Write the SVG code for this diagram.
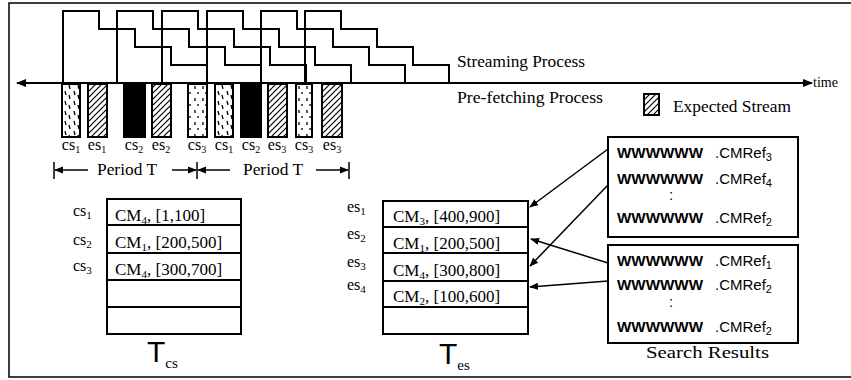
<svg xmlns="http://www.w3.org/2000/svg" width="851" height="380" viewBox="0 0 851 380">
<style>
.ln{fill:none;stroke:#000;stroke-width:2}
.thin{fill:none;stroke:#000;stroke-width:1.5}
.bar{stroke:#000;stroke-width:2}
.ser{font-family:"Liberation Serif","Times New Roman",serif;fill:#000}
.san{font-family:"Liberation Sans",Arial,sans-serif;fill:#000}
.lbl{font-family:"Liberation Serif","Times New Roman",serif;font-size:16px;fill:#000;text-anchor:middle}
.row{font-family:"Liberation Serif","Times New Roman",serif;font-size:17px;fill:#000}
.sr{font-family:"Liberation Sans",Arial,sans-serif;font-size:15px;fill:#000}
.ww{font-family:"Liberation Sans",Arial,sans-serif;font-size:14px;font-weight:bold;fill:#000}
</style>
<defs>
<pattern id="hatch" width="6" height="6" patternUnits="userSpaceOnUse">
<rect width="6" height="6" fill="#fff"/>
<path d="M-1,7 L7,-1 M-4,4 L4,-4 M2,10 L10,2" stroke="#000" stroke-width="1.2"/>
</pattern>
<pattern id="dash" width="9" height="10" patternUnits="userSpaceOnUse">
<rect width="9" height="10" fill="#fff"/>
<path d="M2,1 L3,5 M6,5 L7,9" stroke="#000" stroke-width="1.3"/>
</pattern>
<pattern id="dot" width="8" height="12" patternUnits="userSpaceOnUse">
<rect width="8" height="12" fill="#fff"/>
<path d="M3,2 L3,5 M6,8 L6,10" stroke="#000" stroke-width="1.3"/>
</pattern>
<marker id="ah" viewBox="0 0 10 10" refX="9" refY="5" markerWidth="9" markerHeight="9" markerUnits="userSpaceOnUse" orient="auto">
<path d="M0,1 L10,5 L0,9 Z" fill="#000"/>
</marker>
<marker id="ahb" viewBox="0 0 10 10" refX="9" refY="5" markerWidth="12" markerHeight="10" markerUnits="userSpaceOnUse" orient="auto">
<path d="M0,1 L10,5 L0,9 Z" fill="#000"/>
</marker>
<path id="stair" d="M0,83 V11 H36 V29 H72 V47 H108 V65 H144 V83"/>
</defs>

<!-- frame -->
<path d="M851,3 H9 V377 H851" class="thin"/>

<!-- streaming process staircases -->
<g id="streams" class="ln">
<use href="#stair" x="63"/>
<use href="#stair" x="117"/>
<use href="#stair" x="162"/>
<use href="#stair" x="207"/>
<use href="#stair" x="261"/>
<use href="#stair" x="305"/>
</g>

<!-- time axis -->
<g id="axis">
<line x1="805" y1="83" x2="17" y2="83" class="ln" marker-end="url(#ahb)"/>
<line x1="22" y1="83" x2="812" y2="83" class="ln" marker-end="url(#ahb)"/>
<text x="813" y="87" class="ser" font-size="14">time</text>
<text x="457" y="67" class="ser" font-size="16" textLength="128" lengthAdjust="spacingAndGlyphs">Streaming Process</text>
<text x="457" y="103" class="ser" font-size="16" textLength="146" lengthAdjust="spacingAndGlyphs">Pre-fetching Process</text>
</g>

<!-- legend -->
<g id="legend">
<rect x="644" y="94" width="15" height="21" fill="url(#hatch)" class="bar"/>
<text x="673" y="112" class="ser" font-size="16" textLength="118" lengthAdjust="spacingAndGlyphs">Expected Stream</text>
</g>

<!-- pre-fetching bars -->
<g id="bars">
<rect x="62" y="84" width="18" height="53" fill="url(#dash)" class="bar"/>
<rect x="88" y="84" width="19" height="53" fill="url(#hatch)" class="bar"/>
<rect x="124" y="84" width="21" height="53" fill="#000" class="bar"/>
<rect x="152" y="84" width="19" height="53" fill="url(#hatch)" class="bar"/>
<rect x="188" y="84" width="19" height="53" fill="url(#dot)" class="bar"/>
<rect x="215" y="84" width="18" height="53" fill="url(#dash)" class="bar"/>
<rect x="241" y="84" width="20" height="53" fill="#000" class="bar"/>
<rect x="268" y="84" width="19" height="53" fill="url(#hatch)" class="bar"/>
<rect x="296" y="84" width="16" height="53" fill="url(#dot)" class="bar"/>
<rect x="322" y="84" width="20" height="53" fill="url(#hatch)" class="bar"/>
</g>
<g id="bar-labels">
<text x="71" y="150" class="lbl">cs<tspan dy="3" font-size="10">1</tspan></text>
<text x="97" y="150" class="lbl">es<tspan dy="3" font-size="10">1</tspan></text>
<text x="134" y="150" class="lbl">cs<tspan dy="3" font-size="10">2</tspan></text>
<text x="161" y="150" class="lbl">es<tspan dy="3" font-size="10">2</tspan></text>
<text x="197" y="150" class="lbl">cs<tspan dy="3" font-size="10">3</tspan></text>
<text x="224" y="150" class="lbl">cs<tspan dy="3" font-size="10">1</tspan></text>
<text x="251" y="150" class="lbl">cs<tspan dy="3" font-size="10">2</tspan></text>
<text x="277" y="150" class="lbl">es<tspan dy="3" font-size="10">3</tspan></text>
<text x="304" y="150" class="lbl">cs<tspan dy="3" font-size="10">3</tspan></text>
<text x="332" y="150" class="lbl">es<tspan dy="3" font-size="10">3</tspan></text>
</g>

<!-- period markers -->
<g id="periods">
<line x1="54" y1="162" x2="54" y2="179" class="thin"/>
<line x1="197" y1="162" x2="197" y2="179" class="thin"/>
<line x1="349" y1="162" x2="349" y2="179" class="thin"/>
<line x1="88" y1="170" x2="55" y2="170" class="thin" marker-end="url(#ah)"/>
<text x="97" y="175" class="ser" font-size="17" textLength="60" lengthAdjust="spacingAndGlyphs">Period T</text>
<line x1="172" y1="170" x2="196" y2="170" class="thin" marker-end="url(#ah)"/>
<line x1="230" y1="170" x2="198" y2="170" class="thin" marker-end="url(#ah)"/>
<text x="243" y="175" class="ser" font-size="17" textLength="60" lengthAdjust="spacingAndGlyphs">Period T</text>
<line x1="316" y1="170" x2="348" y2="170" class="thin" marker-end="url(#ah)"/>
</g>

<!-- T_cs table -->
<g id="tcs">
<rect x="107" y="199" width="134" height="135" class="ln"/>
<line x1="107" y1="225" x2="241" y2="225" class="ln"/>
<line x1="107" y1="253" x2="241" y2="253" class="ln"/>
<line x1="107" y1="280" x2="241" y2="280" class="ln"/>
<line x1="107" y1="307" x2="241" y2="307" class="ln"/>
<text x="73" y="216" class="ser" font-size="16">cs<tspan dy="3" font-size="11">1</tspan></text>
<text x="73" y="245" class="ser" font-size="16">cs<tspan dy="3" font-size="11">2</tspan></text>
<text x="73" y="271" class="ser" font-size="16">cs<tspan dy="3" font-size="11">3</tspan></text>
<text x="115" y="221" class="row">CM<tspan dy="3" font-size="11">4</tspan><tspan dy="-3">, [1,100]</tspan></text>
<text x="115" y="248" class="row">CM<tspan dy="3" font-size="11">1</tspan><tspan dy="-3">, [200,500]</tspan></text>
<text x="115" y="275" class="row">CM<tspan dy="3" font-size="11">4</tspan><tspan dy="-3">, [300,700]</tspan></text>
<text x="147" y="362" class="san" font-size="30">T<tspan dy="6" font-size="15" class="ser">cs</tspan></text>
</g>

<!-- T_es table -->
<g id="tes">
<rect x="383" y="201" width="145" height="133" class="ln"/>
<line x1="383" y1="227" x2="528" y2="227" class="ln"/>
<line x1="383" y1="253" x2="528" y2="253" class="ln"/>
<line x1="383" y1="281" x2="528" y2="281" class="ln"/>
<line x1="383" y1="307" x2="528" y2="307" class="ln"/>
<text x="347" y="212" class="ser" font-size="16">es<tspan dy="3" font-size="11">1</tspan></text>
<text x="347" y="239" class="ser" font-size="16">es<tspan dy="3" font-size="11">2</tspan></text>
<text x="347" y="267" class="ser" font-size="16">es<tspan dy="3" font-size="11">3</tspan></text>
<text x="347" y="290" class="ser" font-size="16">es<tspan dy="3" font-size="11">4</tspan></text>
<text x="393" y="222" class="row">CM<tspan dy="3" font-size="11">3</tspan><tspan dy="-3">, [400,900]</tspan></text>
<text x="393" y="249" class="row">CM<tspan dy="3" font-size="11">1</tspan><tspan dy="-3">, [200,500]</tspan></text>
<text x="393" y="276" class="row">CM<tspan dy="3" font-size="11">4</tspan><tspan dy="-3">, [300,800]</tspan></text>
<text x="393" y="302" class="row">CM<tspan dy="3" font-size="11">2</tspan><tspan dy="-3">, [100,600]</tspan></text>
<text x="439" y="364" class="san" font-size="30">T<tspan dy="6" font-size="15" class="ser">es</tspan></text>
</g>

<!-- search results box 1 -->
<g id="sr1">
<rect x="608" y="137" width="190" height="100" class="ln"/>
<text x="617" y="158" class="ww" textLength="86" lengthAdjust="spacingAndGlyphs">WWWWWW</text>
<text x="715" y="158" class="sr">.CMRef<tspan dy="3" font-size="11">3</tspan></text>
<text x="617" y="184" class="ww" textLength="86" lengthAdjust="spacingAndGlyphs">WWWWWW</text>
<text x="715" y="184" class="sr">.CMRef<tspan dy="3" font-size="11">4</tspan></text>
<text x="669" y="200" class="sr" font-size="12">:</text>
<text x="617" y="223" class="ww" textLength="86" lengthAdjust="spacingAndGlyphs">WWWWWW</text>
<text x="715" y="223" class="sr">.CMRef<tspan dy="3" font-size="11">2</tspan></text>
</g>

<!-- search results box 2 -->
<g id="sr2">
<rect x="608" y="245" width="190" height="98" class="ln"/>
<text x="617" y="266" class="ww" textLength="86" lengthAdjust="spacingAndGlyphs">WWWWWW</text>
<text x="715" y="266" class="sr">.CMRef<tspan dy="3" font-size="11">1</tspan></text>
<text x="617" y="290" class="ww" textLength="86" lengthAdjust="spacingAndGlyphs">WWWWWW</text>
<text x="715" y="290" class="sr">.CMRef<tspan dy="3" font-size="11">2</tspan></text>
<text x="669" y="307" class="sr" font-size="12">:</text>
<text x="617" y="332" class="ww" textLength="86" lengthAdjust="spacingAndGlyphs">WWWWWW</text>
<text x="715" y="332" class="sr">.CMRef<tspan dy="3" font-size="11">2</tspan></text>
<text x="646" y="358" class="ser" font-size="17" textLength="123" lengthAdjust="spacingAndGlyphs">Search Results</text>
</g>

<!-- connectors -->
<g id="connectors" class="thin">
<line x1="608" y1="149" x2="530" y2="207" marker-end="url(#ah)"/>
<line x1="608" y1="185" x2="530" y2="266" marker-end="url(#ah)"/>
<line x1="608" y1="263" x2="531" y2="239" marker-end="url(#ah)"/>
<line x1="608" y1="281" x2="530" y2="287" marker-end="url(#ah)"/>
</g>
</svg>
